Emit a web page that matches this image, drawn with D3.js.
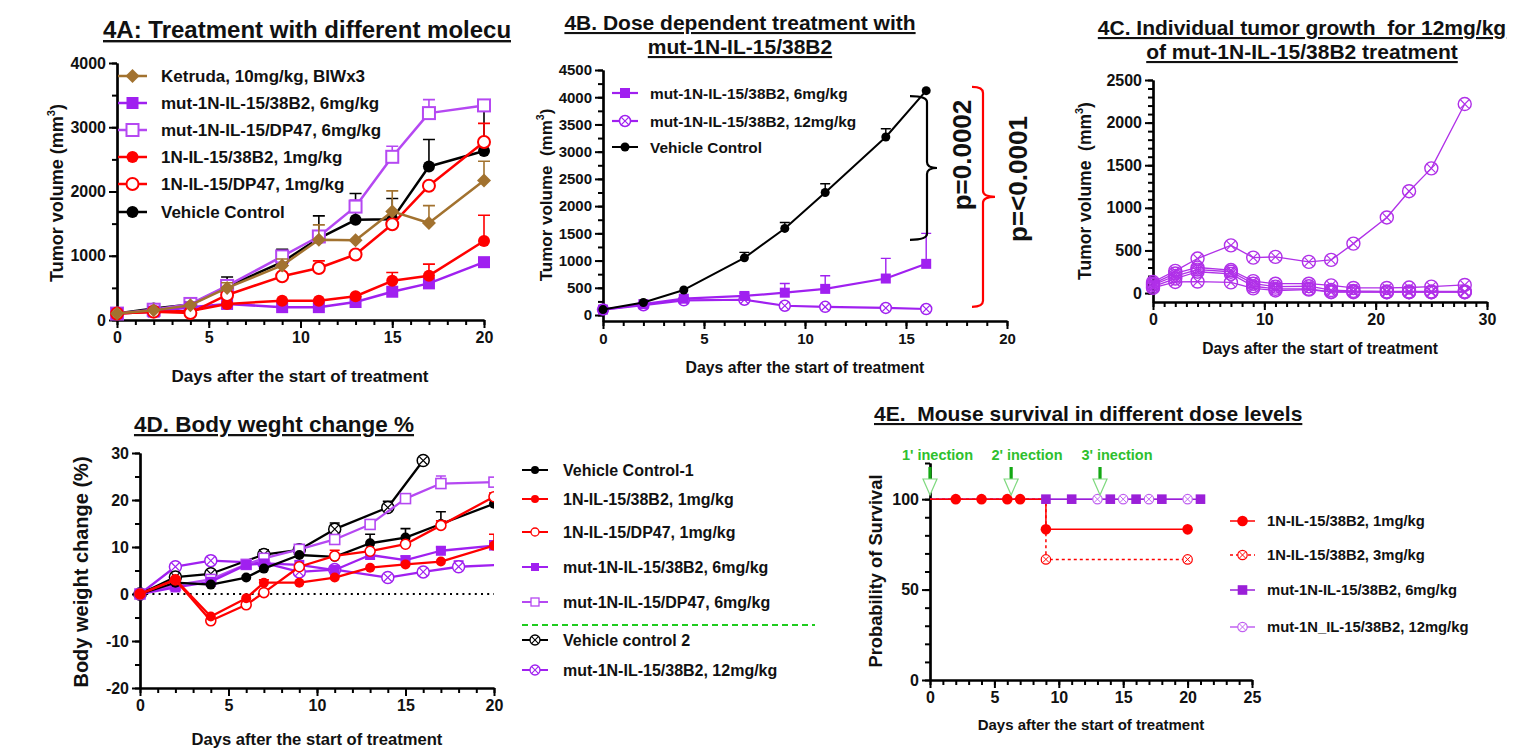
<!DOCTYPE html>
<html lang="en">
<head>
<meta charset="UTF-8">
<title>Figure 4</title>
<script src="https://d3js.org/d3.v7.min.js"></script>
<style>
  body { margin: 0; background: #fff; }
  svg text { font-weight: bold; fill: #111; white-space: pre; }
</style>
</head>
<body>
<svg id="fig" width="1535" height="748"></svg>
<script>
// ---------- 4A: tumor volume, different molecules ----------
const daysA = [0, 2, 4, 6, 9, 11, 13, 15, 17, 20];
const ketrudaA = [100, 150, 230, 500, 850, 1250, 1240, 1690, 1510, 2170];
const ketrudaErrA = [0, 0, 0, 80, 100, 230, 0, 320, 270, 300];
const mut38A = [100, 130, 200, 250, 200, 200, 280, 440, 570, 900];
const mut38ErrA = [0, 0, 0, 0, 0, 0, 0, 0, 0, 60];
const mutDP47A = [100, 160, 250, 530, 990, 1300, 1765, 2540, 3220, 3340];
const mutDP47ErrA = [0, 0, 0, 0, 80, 80, 100, 165, 210, 60];
const il38A = [100, 130, 140, 250, 300, 300, 370, 610, 690, 1230];
const il38ErrA = [0, 0, 0, 0, 0, 0, 0, 130, 180, 400];
const ilDP47A = [100, 130, 110, 390, 680, 810, 1020, 1490, 2090, 2770];
const ilDP47ErrA = [0, 0, 0, 0, 0, 110, 0, 0, 0, 290];
const vehA = [100, 180, 240, 520, 900, 1270, 1560, 1570, 2390, 2630];
const vehErrA = [0, 0, 0, 150, 200, 350, 410, 320, 420, 620];

// ---------- 4B: dose dependence ----------
const daysB = [0, 2, 4, 7, 9, 11, 14, 16];
const mut6B = [100, 200, 300, 350, 410, 480, 670, 940];
const mut6ErrB = [0, 0, 0, 50, 170, 240, 370, 560];
const mut12B = [100, 180, 270, 280, 170, 150, 130, 110];
const vehB = [100, 230, 460, 1050, 1590, 2250, 3270, 4120];
const vehErrB = [0, 0, 0, 100, 110, 160, 150, 0];
const pLabelsB = ["p=0.0002", "p=<0.0001"];
const bracketLoB = [1380, 150];
const bracketHiB = [4020, 4190];

// ---------- 4C: individual mice, 12 mg/kg ----------
const daysC = [0, 2, 4, 7, 9, 11, 14, 16, 18, 21, 23, 25, 28];
const miceC = [
  [130, 260, 405, 560, 416, 424, 366, 389, 580, 887, 1195, 1463, 2218],
  [110, 230, 300, 270, 140, 110, 110, 90, 60, 60, 65, 75, 95],
  [95, 200, 275, 250, 110, 75, 80, 35, 25, 20, 20, 20, 20],
  [75, 170, 250, 225, 80, 50, 50, 15, 15, 10, 10, 10, 10],
  [60, 130, 135, 125, 55, 30, 40, 10, 10, 10, 10, 10, 10]
];

// ---------- 4D: body weight change ----------
const daysD1 = [0, 2, 4, 6, 7, 9, 11, 13, 15, 17, 20];
const vc1D = [0, 2.4, 2.0, 3.5, 5.4, 8.3, 7.9, 10.8, 12.0, 14.9, 19.2];
const vc1ErrD = [0, 0, 0, 0, 0, 0, 0, 1.9, 1.9, 2.6, 0.8];
const il38D = [0, 3.1, -4.8, -0.9, 2.4, 2.4, 3.5, 5.6, 6.3, 6.9, 10.3];
const il38ErrD = [0, 0, 0, 0, 0.6, 0, 0, 0, 0, 0, 2.4];
const ilDP47D = [0, 3.0, -5.7, -2.3, 0.3, 5.8, 8.1, 9.1, 10.6, 14.6, 20.7];
const ilDP47ErrD = [0, 0, 0, 0, 0, 0, 1.2, 0, 0, 1.0, 0.8];
const mut38D = [0, 1.4, 2.6, 6.2, 6.5, 6.2, 5.1, 8.3, 7.2, 9.2, 10.3];
const mut38ErrD = [0, 0, 0, 0, 0, 0, 0, 0, 0.9, 0.8, 1.0];
const mutDP47D = [0, 1.9, 3.1, 6.3, 7.6, 9.5, 11.6, 14.8, 20.3, 23.5, 23.8];
const mutDP47ErrD = [0, 0, 0, 0, 0, 0, 0, 0, 0.9, 1.6, 0.5];
const daysD2 = [0, 2, 4, 7, 9, 11, 14, 16];
const vc2D = [0, 3.6, 4.3, 8.4, 9.4, 13.8, 18.4, 28.4];
const vc2ErrD = [0, 0, 0, 1.0, 0, 1.3, 1.3, 0];
const daysD3 = [0, 2, 4, 7, 9, 11, 14, 16, 18, 21];
const mut12D = [0, 5.8, 7.1, 6.6, 4.7, 5.2, 3.5, 4.7, 5.8, 6.3];
const mut12ErrD = [0, 0, 0, 0, 0.8, 0, 0, 0.5, 1.2, 0];

// ---------- 4E: survival ----------
const kmNames = ["1N-IL-15/38B2, 1mg/kg", "1N-IL-15/38B2, 3mg/kg", "mut-1N-IL-15/38B2, 6mg/kg", "mut-1N_IL-15/38B2, 12mg/kg"];
const kmTimes = [[0, 9, 20], [0, 9, 20], [0, 21], [0, 20]];
const kmSurv = [[100, 83.3, 83.3], [100, 66.7, 66.7], [100, 100], [100, 100]];
const kmMarks = [[2, 4, 6, 7, 9, 20], [9, 20], [9, 11, 14, 16, 18, 21], [13, 15, 17, 20]];
const injDays = [0, 6.3, 13.2];
const injLabelDays = [0.58, 7.53, 14.52];
const injLabels = ["1' inection", "2' inection", "3' inection"];

const FONT = '"Liberation Sans", Arial, sans-serif';
const RED = "#ff0000", PURPLE = "#a020f0", LPURPLE = "#b548f2", BROWN = "#a2722f", GREEN = "#2ec02e";

const svg = d3.select("#fig");

function marker(g, shape, cx, cy, r, color, fill, sw) {
  sw = sw || 1.8;
  if (shape === "circle") {
    g.append("circle").attr("cx", cx).attr("cy", cy).attr("r", r).attr("fill", color);
  } else if (shape === "ocircle") {
    g.append("circle").attr("cx", cx).attr("cy", cy).attr("r", r)
      .attr("fill", fill || "#fff").attr("stroke", color).attr("stroke-width", sw);
  } else if (shape === "square") {
    g.append("rect").attr("x", cx - r).attr("y", cy - r).attr("width", 2 * r).attr("height", 2 * r).attr("fill", color);
  } else if (shape === "osquare") {
    g.append("rect").attr("x", cx - r).attr("y", cy - r).attr("width", 2 * r).attr("height", 2 * r)
      .attr("fill", fill || "#fff").attr("stroke", color).attr("stroke-width", sw);
  } else if (shape === "diamond") {
    g.append("path").attr("d", `M${cx},${cy - r}L${cx + r},${cy}L${cx},${cy + r}L${cx - r},${cy}Z`).attr("fill", color);
  } else if (shape === "xcircle") {
    g.append("circle").attr("cx", cx).attr("cy", cy).attr("r", r)
      .attr("fill", fill || "#fff").attr("stroke", color).attr("stroke-width", sw);
    const k = r * 0.66;
    g.append("path").attr("d", `M${cx - k},${cy - k}L${cx + k},${cy + k}M${cx - k},${cy + k}L${cx + k},${cy - k}`)
      .attr("stroke", color).attr("stroke-width", sw * 0.8).attr("fill", "none");
  }
}

function drawAxes(g, x, y, o) {
  const yb = y.range()[0], xl = x.range()[0];
  const fmt = d => String(d);
  const put = (gen, tr) => g.append("g").attr("transform", tr).call(gen);
  const parts = [
    put(d3.axisBottom(x).tickValues(o.xMinor).tickSize(5).tickSizeOuter(0).tickFormat(""), `translate(0,${yb})`),
    put(d3.axisBottom(x).tickValues(o.xMajor).tickSize(8).tickSizeOuter(0).tickPadding(4).tickFormat(fmt), `translate(0,${yb})`),
    put(d3.axisLeft(y).tickValues(o.yMinor).tickSize(5).tickSizeOuter(0).tickFormat(""), `translate(${xl},0)`),
    put(d3.axisLeft(y).tickValues(o.yMajor).tickSize(8).tickSizeOuter(0).tickPadding(3).tickFormat(fmt), `translate(${xl},0)`)
  ];
  parts.forEach(a => {
    a.select(".domain").attr("stroke", "#000").attr("stroke-width", 2.2);
    a.selectAll(".tick line").attr("stroke", "#000").attr("stroke-width", 2);
    a.selectAll(".tick text").attr("font-size", o.fs).attr("font-family", FONT)
      .attr("font-weight", "bold").attr("fill", "#111");
  });
}

function series(g, x, y, days, vals, errs, st) {
  const line = d3.line().x((d, i) => x(days[i])).y(d => y(d));
  g.append("path").datum(vals).attr("d", line).attr("fill", "none")
    .attr("stroke", st.color).attr("stroke-width", st.lw).attr("stroke-linejoin", "round");
  if (errs) {
    errs.forEach((e, i) => {
      if (e <= 0) return;
      const cx = x(days[i]), y0 = y(vals[i]), y1 = y(vals[i] + e);
      g.append("path").attr("d", `M${cx},${y0}L${cx},${y1}M${cx - st.cap},${y1}L${cx + st.cap},${y1}`)
        .attr("stroke", st.ecolor || st.color).attr("stroke-width", st.elw || 1.6).attr("fill", "none");
    });
  }
  vals.forEach((v, i) => marker(g, st.shape, x(days[i]), y(v), st.r, st.color, st.fill, st.msw));
}

function legend(g, entries, styles, o) {
  entries.forEach((name, i) => {
    const st = styles[i], y = o.rows[i];
    g.append("line").attr("x1", o.x1).attr("x2", o.x2).attr("y1", y).attr("y2", y)
      .attr("stroke", st.color).attr("stroke-width", o.lw || st.lw).attr("stroke-dasharray", st.dash || null);
    marker(g, st.shape, (o.x1 + o.x2) / 2, y, o.r || st.r, st.color, st.fill === "none" ? "#fff" : st.fill, o.msw || st.msw);
    g.append("text").attr("x", o.tx).attr("y", y).attr("dominant-baseline", "central")
      .attr("font-size", o.fs).attr("font-family", FONT).text(name);
  });
}

function title(g, lines, o) {
  lines.forEach((t, i) => {
    g.append("text").attr("x", o.x).attr("y", o.y + i * (o.dy || 0))
      .attr("text-anchor", o.anchor || "middle").attr("font-size", o.fs)
      .attr("font-family", FONT).style("text-decoration", "underline").text(t);
  });
}

function xTitle(g, cx, y, text, fs) {
  g.append("text").attr("x", cx).attr("y", y).attr("text-anchor", "middle")
    .attr("font-size", fs).attr("font-family", FONT).text(text);
}

function yTitle(g, cx, cy, parts, fs) {
  const t = g.append("text").attr("transform", `translate(${cx},${cy}) rotate(-90)`)
    .attr("text-anchor", "middle").attr("dominant-baseline", "central")
    .attr("font-size", fs).attr("font-family", FONT);
  parts.forEach(p => {
    const ts = t.append("tspan").text(p.t);
    if (p.sup) ts.attr("baseline-shift", "super").attr("font-size", fs * 0.62);
  });
}

const mmParts = (s) => [{ t: s }, { t: "3", sup: true }, { t: ")" }];

// ================= 4A =================
{
  const g = svg.append("g");
  const x = d3.scaleLinear().domain([0, 20]).range([117, 484]);
  const y = d3.scaleLinear().domain([0, 4000]).range([320, 63]);
  svg.append("defs").append("clipPath").attr("id", "clipA").append("rect")
    .attr("x", 0).attr("y", 0).attr("width", 511).attr("height", 60);
  title(g.append("g").attr("clip-path", "url(#clipA)"), ["4A: Treatment with different molecules"],
    { x: 103, y: 38, fs: 24, anchor: "start" });
  drawAxes(g, x, y, { xMajor: [0, 5, 10, 15, 20], xMinor: d3.range(0, 21), yMajor: d3.range(0, 4001, 1000), yMinor: d3.range(0, 4001, 500), fs: 16 });
  xTitle(g, 300, 382, "Days after the start of treatment", 17);
  yTitle(g, 57, 193, mmParts("Tumor volume (mm"), 18);

  const stK = { color: BROWN, lw: 2.5, shape: "diamond", r: 7, cap: 6 };
  const stM38 = { color: PURPLE, lw: 2.5, shape: "square", r: 6, cap: 6 };
  const stMDP = { color: LPURPLE, lw: 2.5, shape: "osquare", r: 6, cap: 6, msw: 2 };
  const stI38 = { color: RED, lw: 2.5, shape: "circle", r: 6, cap: 6 };
  const stIDP = { color: RED, lw: 2.5, shape: "ocircle", r: 6, cap: 6, msw: 2 };
  const stV = { color: "#000", lw: 2.5, shape: "circle", r: 6, cap: 6 };

  series(g, x, y, daysA, vehA, vehErrA, stV);
  series(g, x, y, daysA, mutDP47A, mutDP47ErrA, stMDP);
  series(g, x, y, daysA, mut38A, mut38ErrA, stM38);
  series(g, x, y, daysA, il38A, il38ErrA, stI38);
  series(g, x, y, daysA, ilDP47A, ilDP47ErrA, stIDP);
  series(g, x, y, daysA, ketrudaA, ketrudaErrA, stK);

  legend(g, ["Ketruda, 10mg/kg, BIWx3", "mut-1N-IL-15/38B2, 6mg/kg", "mut-1N-IL-15/DP47, 6mg/kg",
             "1N-IL-15/38B2, 1mg/kg", "1N-IL-15/DP47, 1mg/kg", "Vehicle Control"],
    [stK, stM38, stMDP, stI38, stIDP, stV],
    { x1: 118, x2: 147, tx: 161, rows: [76, 103, 130, 157, 184, 212], fs: 17 });
}

// ================= 4B =================
{
  const g = svg.append("g");
  const x = d3.scaleLinear().domain([0, 20]).range([603, 1007]);
  const y = d3.scaleLinear().domain([-110, 4500]).range([321, 70]);
  title(g, ["4B. Dose dependent treatment with", "mut-1N-IL-15/38B2"], { x: 740, y: 30, dy: 24, fs: 21 });
  drawAxes(g, x, y, { xMajor: [0, 5, 10, 15, 20], xMinor: d3.range(0, 21), yMajor: d3.range(0, 4501, 500), yMinor: d3.range(0, 4501, 250), fs: 15 });
  xTitle(g, 805, 373, "Days after the start of treatment", 15.8);
  yTitle(g, 546, 195, mmParts("Tumor volume  (mm"), 17);

  const stM6 = { color: PURPLE, lw: 2.2, shape: "square", r: 5, cap: 5, elw: 1.4 };
  const stM12 = { color: PURPLE, lw: 2.2, shape: "xcircle", r: 5.5, cap: 5, msw: 1.5 };
  const stV = { color: "#000", lw: 2, shape: "circle", r: 4.5, cap: 5, elw: 1.4 };
  series(g, x, y, daysB, mut12B, null, stM12);
  series(g, x, y, daysB, mut6B, mut6ErrB, stM6);
  series(g, x, y, daysB, vehB, vehErrB, stV);

  legend(g, ["mut-1N-IL-15/38B2, 6mg/kg", "mut-1N-IL-15/38B2, 12mg/kg", "Vehicle Control"],
    [stM6, stM12, stV], { x1: 612, x2: 638, tx: 650, rows: [93, 121, 147], fs: 15.4 });

  // significance brackets
  const vx = [927, 983], hook = [17, 11], tip = [10, 12], col = ["#000", RED], tx = [962, 1018];
  pLabelsB.forEach((p, i) => {
    const t = y(bracketHiB[i]), b = y(bracketLoB[i]), m = (t + b) / 2, v = vx[i];
    g.append("path").attr("d",
      `M${v - hook[i]},${t}Q${v},${t} ${v},${t + 6}L${v},${m - 6}Q${v},${m} ${v + tip[i]},${m}` +
      `Q${v},${m} ${v},${m + 6}L${v},${b - 6}Q${v},${b} ${v - hook[i]},${b}`)
      .attr("fill", "none").attr("stroke", col[i]).attr("stroke-width", 2.2);
    g.append("text").attr("transform", `translate(${tx[i]},${i === 0 ? 155 : 179}) rotate(-90)`)
      .attr("text-anchor", "middle").attr("dominant-baseline", "central")
      .attr("font-size", 26).attr("font-family", FONT).text(p);
  });
}

// ================= 4C =================
{
  const g = svg.append("g");
  const x = d3.scaleLinear().domain([0, 30]).range([1153, 1487]);
  const y = d3.scaleLinear().domain([-105, 2500]).range([302, 80]);
  title(g, ["4C. Individual tumor growth  for 12mg/kg", "of mut-1N-IL-15/38B2 treatment"], { x: 1302, y: 35, dy: 24, fs: 21 });
  drawAxes(g, x, y, { xMajor: [0, 10, 20, 30], xMinor: d3.range(0, 31), yMajor: d3.range(0, 2501, 500), yMinor: d3.range(0, 2501, 100), fs: 16 });
  xTitle(g, 1320, 354, "Days after the start of treatment", 15.6);
  yTitle(g, 1085, 191, mmParts("Tumor volume  (mm"), 17.5);
  const st = { color: "#b030e8", lw: 1.3, shape: "xcircle", r: 6.5, fill: "none", msw: 1.4 };
  miceC.forEach(m => series(g, x, y, daysC, m, null, st));
}

// ================= 4D =================
{
  const g = svg.append("g");
  const x = d3.scaleLinear().domain([0, 20]).range([140, 494]);
  const y = d3.scaleLinear().domain([-20, 30]).range([688, 453]);
  title(g, ["4D. Body weght change %"], { x: 274, y: 432, fs: 22.5 });
  drawAxes(g, x, y, { xMajor: [0, 5, 10, 15, 20], xMinor: d3.range(0, 21), yMajor: d3.range(-20, 31, 10), yMinor: d3.range(-20, 31, 5), fs: 16 });
  xTitle(g, 317, 745, "Days after the start of treatment", 16.6);
  yTitle(g, 81, 572, [{ t: "Body weight change (%)" }], 20);
  g.append("line").attr("x1", x(0)).attr("x2", x(20)).attr("y1", y(0)).attr("y2", y(0))
    .attr("stroke", "#000").attr("stroke-width", 2).attr("stroke-dasharray", "2,4.2");

  g.append("defs").append("clipPath").attr("id", "clipD").append("rect")
    .attr("x", x(0) - 10).attr("y", 440).attr("width", x(20) - x(0) + 10).attr("height", 260);
  const p = g.append("g").attr("clip-path", "url(#clipD)");

  const stV1 = { color: "#000", lw: 2.3, shape: "circle", r: 5, cap: 5 };
  const stI38 = { color: RED, lw: 2.3, shape: "circle", r: 5, cap: 5 };
  const stIDP = { color: RED, lw: 2.3, shape: "ocircle", r: 5, cap: 5, msw: 1.6 };
  const stM38 = { color: PURPLE, lw: 2.3, shape: "square", r: 5, cap: 5 };
  const stMDP = { color: LPURPLE, lw: 2.3, shape: "osquare", r: 5, cap: 5, msw: 1.6 };
  const stV2 = { color: "#000", lw: 2.3, shape: "xcircle", r: 6, cap: 5, msw: 1.5 };
  const stM12 = { color: PURPLE, lw: 2.3, shape: "xcircle", r: 6, cap: 5, msw: 1.5 };

  series(p, x, y, daysD3, mut12D, mut12ErrD, stM12);
  series(p, x, y, daysD2, vc2D, vc2ErrD, stV2);
  series(p, x, y, daysD1, mutDP47D, mutDP47ErrD, stMDP);
  series(p, x, y, daysD1, mut38D, mut38ErrD, stM38);
  series(p, x, y, daysD1, vc1D, vc1ErrD, stV1);
  series(p, x, y, daysD1, ilDP47D, ilDP47ErrD, stIDP);
  series(p, x, y, daysD1, il38D, il38ErrD, stI38);

  const lg = { x1: 522, x2: 548, tx: 563, fs: 16, r: 4, lw: 2, msw: 1.3 };
  legend(g, ["Vehicle Control-1", "1N-IL-15/38B2, 1mg/kg", "1N-IL-15/DP47, 1mg/kg",
             "mut-1N-IL-15/38B2, 6mg/kg", "mut-1N-IL-15/DP47, 6mg/kg"],
    [stV1, stI38, stIDP, stM38, stMDP], Object.assign({ rows: [470, 499, 532, 567, 602] }, lg));
  g.append("line").attr("x1", 522).attr("x2", 815).attr("y1", 625).attr("y2", 625)
    .attr("stroke", "#1fcc1f").attr("stroke-width", 2).attr("stroke-dasharray", "6,4");
  legend(g, ["Vehicle control 2", "mut-1N-IL-15/38B2, 12mg/kg"], [stV2, stM12],
    Object.assign({ rows: [640, 670] }, lg, { r: 5 }));
}

// ================= 4E =================
{
  const g = svg.append("g");
  const x = d3.scaleLinear().domain([0, 25]).range([930, 1252]);
  const y = d3.scaleLinear().domain([0, 120]).range([680, 463]);
  title(g, ["4E.  Mouse survival in different dose levels"], { x: 874, y: 421, fs: 21, anchor: "start" });
  drawAxes(g, x, y, { xMajor: [0, 5, 10, 15, 20, 25], xMinor: d3.range(0, 26), yMajor: [0, 50, 100], yMinor: d3.range(0, 121, 10), fs: 16 });
  xTitle(g, 1091, 730, "Days after the start of treatment", 15);
  yTitle(g, 875, 571, [{ t: "Probability of Survival" }], 18.3);

  const styles = [
    { color: RED, lw: 1.5, shape: "circle", r: 5.3 },
    { color: RED, lw: 1.5, shape: "xcircle", r: 4.7, dash: "3,3", msw: 1.2 },
    { color: "#9a1fd8", lw: 1.5, shape: "square", r: 4.8 },
    { color: "#c060f0", lw: 1.5, shape: "xcircle", r: 4.7, msw: 1.2 }
  ];
  const step = d3.line().x(d => x(d[0])).y(d => y(d[1])).curve(d3.curveStepAfter);
  const survAt = (k, t) => { let s = kmSurv[k][0]; kmTimes[k].forEach((tt, j) => { if (tt <= t) s = kmSurv[k][j]; }); return s; };
  [3, 2, 1, 0].forEach(k => {
    const st = styles[k];
    g.append("path").datum(kmTimes[k].map((t, j) => [t, kmSurv[k][j]])).attr("d", step)
      .attr("fill", "none").attr("stroke", st.color).attr("stroke-width", st.lw).attr("stroke-dasharray", st.dash || null);
  });
  [3, 2, 1, 0].forEach(k => {
    const st = styles[k];
    kmMarks[k].forEach(t => marker(g, st.shape, x(t), y(survAt(k, t)), st.r, st.color, null, st.msw));
  });

  legend(g, kmNames, styles, { x1: 1230, x2: 1255, tx: 1267, rows: [521, 555, 590, 627], fs: 14.8 });

  // injection markers
  injDays.forEach((d, i) => {
    const cx = x(d);
    g.append("rect").attr("x", cx - 1.6).attr("y", 467).attr("width", 3.2).attr("height", 13).attr("fill", "#13a813");
    g.append("path").attr("d", `M${cx - 7},${479}L${cx + 7},${479}L${cx},${495}Z`)
      .attr("fill", "#fff").attr("stroke", "#7fd97f").attr("stroke-width", 1.2);
    g.append("text").attr("x", x(injLabelDays[i])).attr("y", 460).attr("text-anchor", "middle")
      .attr("font-size", 14.5).attr("font-family", FONT).style("fill", GREEN).text(injLabels[i]);
  });
}
</script>
</body>
</html>
